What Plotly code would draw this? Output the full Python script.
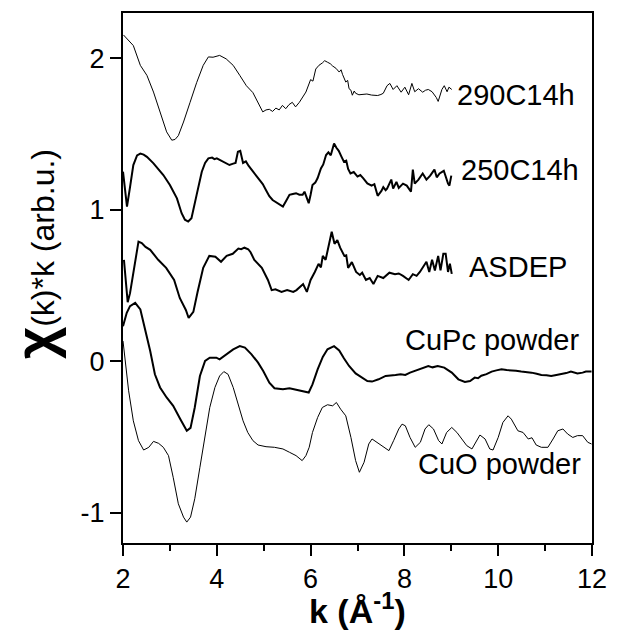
import plotly.graph_objects as go

# ---- data (values as plotted, offsets included) ----
k_290 = [2.01,2.12,2.22,2.37,2.51,2.65,2.79,2.93,3.04,3.11,3.18,3.29,3.43,3.57,3.71,3.82,3.92,4.06,4.2,4.35,4.49,4.63,4.77,4.88,4.98,5.05,5.12,5.19,5.26,5.33,5.4,5.47,5.54,5.61,5.68,5.76,5.83,5.9,6.0,6.05,6.11,6.18,6.25,6.3,6.36,6.42,6.47,6.54,6.61,6.65,6.68,6.72,6.75,6.79,6.82,6.86,6.89,6.93,6.96,7.03,7.09,7.2,7.3,7.43,7.5,7.55,7.63,7.69,7.76,7.84,7.93,8.01,8.09,8.16,8.22,8.3,8.39,8.45,8.51,8.59,8.68,8.72,8.8,8.85,8.91,8.95,9.01]
chi_290 = [2.155,2.12,2.085,1.954,1.888,1.778,1.647,1.515,1.46,1.465,1.49,1.58,1.71,1.84,1.954,2.01,2.008,2.02,1.997,1.954,1.888,1.82,1.774,1.71,1.647,1.66,1.664,1.65,1.672,1.66,1.69,1.668,1.695,1.71,1.68,1.71,1.745,1.778,1.86,1.85,1.93,1.955,1.97,1.985,1.975,1.965,1.95,1.935,1.91,1.925,1.895,1.86,1.844,1.855,1.80,1.79,1.757,1.785,1.77,1.76,1.762,1.765,1.758,1.755,1.762,1.77,1.82,1.835,1.795,1.82,1.777,1.81,1.76,1.835,1.78,1.80,1.777,1.79,1.795,1.78,1.742,1.716,1.795,1.82,1.78,1.81,1.795]

k_250 = [2.0,2.04,2.085,2.15,2.22,2.3,2.37,2.44,2.51,2.65,2.79,2.86,3.0,3.15,3.25,3.32,3.39,3.46,3.57,3.68,3.75,3.82,3.9,3.95,4.0,4.06,4.13,4.2,4.27,4.35,4.4,4.45,4.5,4.56,4.62,4.68,4.77,4.84,4.91,4.98,5.05,5.12,5.19,5.3,5.41,5.48,5.55,5.62,5.69,5.76,5.83,5.87,5.92,5.96,6.0,6.04,6.1,6.15,6.22,6.27,6.33,6.38,6.43,6.5,6.55,6.6,6.66,6.71,6.76,6.8,6.85,6.92,7.0,7.06,7.12,7.21,7.3,7.36,7.43,7.46,7.51,7.55,7.6,7.63,7.68,7.72,7.76,7.83,7.88,7.97,8.05,8.14,8.18,8.22,8.3,8.39,8.47,8.55,8.64,8.69,8.75,8.84,8.93,8.96,9.0]
chi_250 = [1.252,1.15,1.022,1.15,1.296,1.36,1.372,1.365,1.35,1.307,1.26,1.23,1.164,1.076,0.978,0.935,0.923,0.945,1.099,1.252,1.31,1.34,1.345,1.335,1.34,1.33,1.318,1.305,1.296,1.305,1.31,1.384,1.39,1.31,1.32,1.29,1.252,1.225,1.2,1.17,1.13,1.09,1.065,1.045,1.022,1.06,1.099,1.105,1.11,1.1,1.1,1.12,1.07,1.044,1.1,1.164,1.18,1.21,1.274,1.3,1.362,1.38,1.36,1.438,1.41,1.39,1.35,1.318,1.325,1.27,1.24,1.25,1.22,1.23,1.21,1.175,1.16,1.17,1.093,1.105,1.125,1.15,1.13,1.14,1.17,1.2,1.14,1.185,1.145,1.173,1.16,1.12,1.266,1.173,1.2,1.24,1.2,1.226,1.266,1.215,1.24,1.258,1.173,1.16,1.226]

k_asdep = [2.02,2.06,2.1,2.15,2.21,2.28,2.33,2.4,2.48,2.58,2.75,2.92,3.09,3.21,3.34,3.4,3.5,3.59,3.71,3.84,3.97,4.09,4.21,4.34,4.46,4.52,4.59,4.67,4.72,4.8,4.88,4.96,5.09,5.17,5.25,5.3,5.38,5.5,5.63,5.7,5.76,5.84,5.92,6.0,6.09,6.17,6.22,6.26,6.32,6.38,6.45,6.51,6.57,6.63,6.72,6.76,6.8,6.88,6.97,7.05,7.1,7.18,7.26,7.34,7.43,7.55,7.68,7.8,7.88,7.97,8.09,8.18,8.26,8.33,8.39,8.47,8.53,8.59,8.65,8.72,8.77,8.83,8.88,8.93,8.97,9.01]
chi_asdep = [0.67,0.5,0.39,0.45,0.564,0.72,0.79,0.78,0.755,0.736,0.67,0.617,0.537,0.418,0.339,0.286,0.326,0.458,0.617,0.696,0.69,0.657,0.696,0.71,0.744,0.74,0.75,0.74,0.72,0.67,0.645,0.617,0.537,0.47,0.475,0.47,0.458,0.47,0.458,0.47,0.485,0.51,0.458,0.537,0.59,0.643,0.62,0.696,0.67,0.75,0.855,0.776,0.8,0.75,0.696,0.7,0.617,0.655,0.59,0.57,0.585,0.537,0.55,0.51,0.564,0.55,0.585,0.575,0.58,0.564,0.537,0.575,0.564,0.59,0.617,0.657,0.59,0.67,0.6,0.696,0.6,0.71,0.71,0.59,0.645,0.577]

k_cupc = [2.0,2.08,2.15,2.26,2.37,2.47,2.58,2.68,2.79,2.93,3.07,3.22,3.36,3.44,3.53,3.64,3.75,3.85,3.99,4.06,4.2,4.35,4.49,4.6,4.74,4.88,4.99,5.12,5.23,5.41,5.55,5.69,5.83,5.96,6.04,6.15,6.26,6.36,6.5,6.61,6.71,6.82,6.96,7.1,7.21,7.31,7.45,7.6,7.7,7.81,7.92,8.02,8.12,8.23,8.33,8.41,8.51,8.6,8.71,8.85,9.01,9.15,9.29,9.4,9.5,9.57,9.64,9.75,9.86,9.96,10.07,10.18,10.28,10.38,10.49,10.6,10.71,10.82,10.92,11.03,11.13,11.24,11.34,11.45,11.55,11.62,11.69,11.8,11.87,11.99]
chi_cupc = [0.232,0.32,0.364,0.386,0.342,0.22,0.068,-0.086,-0.173,-0.239,-0.294,-0.381,-0.459,-0.44,-0.305,-0.097,0.002,0.024,0.024,0.013,0.046,0.079,0.1,0.09,0.046,-0.009,-0.064,-0.141,-0.178,-0.185,-0.178,-0.189,-0.195,-0.206,-0.152,-0.053,0.029,0.079,0.1,0.072,0.02,-0.031,-0.08,-0.11,-0.13,-0.134,-0.119,-0.097,-0.095,-0.09,-0.085,-0.09,-0.075,-0.064,-0.05,-0.042,-0.031,-0.04,-0.031,-0.042,-0.075,-0.119,-0.136,-0.13,-0.108,-0.112,-0.095,-0.085,-0.068,-0.06,-0.053,-0.058,-0.059,-0.062,-0.068,-0.07,-0.075,-0.082,-0.09,-0.092,-0.097,-0.09,-0.086,-0.078,-0.068,-0.075,-0.081,-0.075,-0.068,-0.068]

k_cuo = [2.0,2.05,2.12,2.22,2.33,2.44,2.55,2.65,2.76,2.86,2.97,3.07,3.18,3.29,3.36,3.44,3.53,3.64,3.75,3.85,3.96,4.06,4.15,4.24,4.35,4.45,4.56,4.66,4.77,4.88,5.05,5.23,5.41,5.55,5.69,5.82,5.9,5.97,6.04,6.15,6.25,6.36,6.47,6.55,6.64,6.75,6.86,6.96,7.04,7.14,7.24,7.31,7.42,7.52,7.67,7.77,7.88,7.95,8.02,8.12,8.23,8.34,8.44,8.52,8.62,8.73,8.8,8.9,9.01,9.12,9.22,9.33,9.44,9.54,9.61,9.72,9.82,9.89,10.0,10.1,10.21,10.28,10.42,10.53,10.64,10.72,10.81,10.92,11.06,11.17,11.27,11.38,11.48,11.59,11.69,11.8,11.91,11.99]
chi_cuo = [0.134,0.002,-0.195,-0.393,-0.524,-0.586,-0.568,-0.529,-0.542,-0.568,-0.623,-0.766,-0.941,-1.029,-1.062,-1.029,-0.908,-0.7,-0.503,-0.305,-0.173,-0.097,-0.068,-0.086,-0.173,-0.283,-0.393,-0.47,-0.524,-0.553,-0.564,-0.568,-0.579,-0.601,-0.623,-0.656,-0.623,-0.568,-0.47,-0.371,-0.305,-0.287,-0.294,-0.272,-0.316,-0.36,-0.503,-0.656,-0.733,-0.667,-0.546,-0.513,-0.535,-0.557,-0.59,-0.524,-0.447,-0.415,-0.426,-0.503,-0.568,-0.535,-0.447,-0.419,-0.447,-0.524,-0.546,-0.47,-0.437,-0.47,-0.513,-0.557,-0.579,-0.524,-0.487,-0.513,-0.579,-0.586,-0.503,-0.404,-0.36,-0.382,-0.459,-0.47,-0.513,-0.505,-0.553,-0.568,-0.568,-0.513,-0.459,-0.447,-0.48,-0.503,-0.491,-0.491,-0.535,-0.546]

series_names = ["290C14h", "250C14h", "ASDEP", "CuPc powder", "CuO powder"]
label_x = [11.68, 11.77, 11.52, 11.77, 11.81]
label_y = [1.76, 1.26, 0.625, 0.14, -0.675]
x_ticks = [2, 4, 6, 8, 10, 12]
y_ticks = [-1, 0, 1, 2]

FONT = "Arial, Liberation Sans, sans-serif"

fig = go.Figure()
curves = [(k_290, chi_290, 1.0), (k_250, chi_250, 2.0), (k_asdep, chi_asdep, 2.0),
          (k_cupc, chi_cupc, 2.0), (k_cuo, chi_cuo, 1.0)]
for (kx, cy, w), name in zip(curves, series_names):
    fig.add_trace(go.Scatter(x=kx, y=cy, mode="lines", name=name,
                             line=dict(color="black", width=w), showlegend=False))

for name, lx, ly in zip(series_names, label_x, label_y):
    fig.add_annotation(x=lx, y=ly, xref="x", yref="y", text=name, showarrow=False,
                       xanchor="right", yanchor="middle",
                       font=dict(family=FONT, size=29, color="black"))

fig.add_annotation(x=0.5, y=-0.123, xref="paper", yref="paper",
                   text="<b>k (Å<sup>-1</sup>)</b>", showarrow=False,
                   xanchor="center", yanchor="middle",
                   font=dict(family=FONT, size=34, color="black"))
fig.add_annotation(x=-0.19, y=0.545, xref="paper", yref="paper", textangle=-90,
                   text='<span style="font-size:56px"><b>χ</b></span>(k)*k (arb.u.)',
                   showarrow=False, xanchor="center", yanchor="middle",
                   font=dict(family=FONT, size=32, color="black"))

axis_common = dict(showgrid=False, zeroline=False, showline=True, linecolor="black",
                   linewidth=2, mirror=True, ticks="outside", ticklen=11, tickwidth=2,
                   tickcolor="black", tickfont=dict(family=FONT, size=27, color="black"))
fig.update_xaxes(range=[2, 12], tickvals=x_ticks, ticktext=[str(v) for v in x_ticks],
                 minor=dict(ticks="outside", ticklen=6, tickwidth=2, tickcolor="black", dtick=1, tick0=2),
                 **axis_common)
fig.update_yaxes(range=[-1.2, 2.3], tickvals=y_ticks, ticktext=[str(v) for v in y_ticks],
                 **axis_common)
fig.update_layout(width=618, height=631, margin=dict(l=123, r=24, t=11, b=88),
                  plot_bgcolor="white", paper_bgcolor="white")
fig.write_html("out.html")
